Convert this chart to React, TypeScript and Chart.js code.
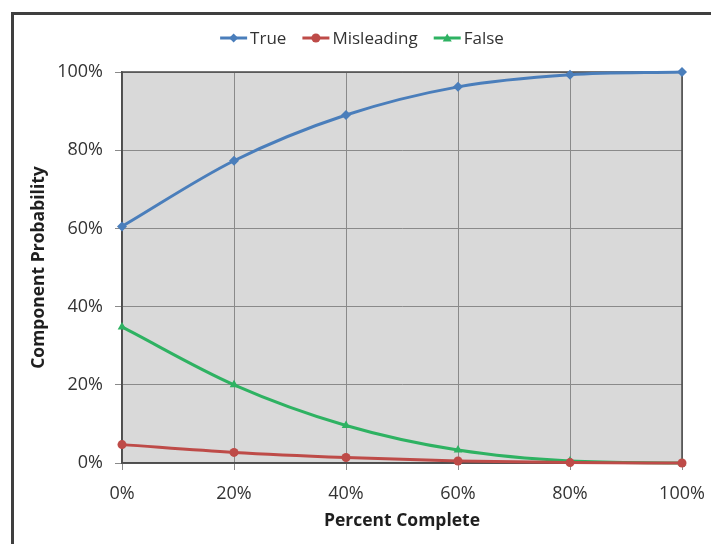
import React, { useEffect, useRef } from "react";
import { Chart, registerables } from "chart.js";

Chart.register(...registerables);

// ---- data ----
const xValues = [0, 20, 40, 60, 80, 100];
const trueValues = [60.5, 77.3, 89, 96.2, 99.3, 100];
const misleadingValues = [4.7, 2.7, 1.4, 0.5, 0.1, 0];
const falseValues = [34.8, 20, 9.6, 3.3, 0.5, 0];
const seriesNames = ["True", "Misleading", "False"];
const xTitle = "Percent Complete";
const yTitle = "Component Probability";

// ---- styles ----
const FONT = "'Open Sans', sans-serif";
const COLORS = ["#4a7ebb", "#be4b48", "#2eb262"];
const MARKERS = ["rectRot", "circle", "triangle"];
const W = 711;
const H = 544;

function drawMarker(ctx: CanvasRenderingContext2D, style: string, x: number, y: number, r: number, color: string) {
  ctx.save();
  ctx.fillStyle = color;
  ctx.beginPath();
  if (style === "rectRot") {
    ctx.moveTo(x, y - r);
    ctx.lineTo(x + r, y);
    ctx.lineTo(x, y + r);
    ctx.lineTo(x - r, y);
    ctx.closePath();
  } else if (style === "circle") {
    ctx.arc(x, y, r, 0, Math.PI * 2);
  } else {
    ctx.moveTo(x, y - r);
    ctx.lineTo(x + r, y + r * 0.8);
    ctx.lineTo(x - r, y + r * 0.8);
    ctx.closePath();
  }
  ctx.fill();
  ctx.restore();
}

const plotBg = {
  id: "plotBg",
  beforeDraw(chart: any) {
    const { ctx, chartArea: a } = chart;
    ctx.save();
    ctx.fillStyle = "#d9d9d9";
    ctx.fillRect(a.left, a.top, a.right - a.left, a.bottom - a.top);
    ctx.restore();
  },
  beforeDatasetsDraw(chart: any) {
    const { ctx, chartArea: a } = chart;
    ctx.save();
    ctx.strokeStyle = "#4a4a4a";
    ctx.lineWidth = 1.5;
    ctx.strokeRect(a.left, a.top, a.right - a.left, a.bottom - a.top);
    ctx.restore();
  },
};

const lineLegend = {
  id: "lineLegend",
  afterDraw(chart: any) {
    const { ctx } = chart;
    ctx.save();
    ctx.font = `17px ${FONT}`;
    ctx.textBaseline = "middle";
    const lineLen = 27;
    const gap = 3;
    const spacing = 16;
    const widths = seriesNames.map((n) => lineLen + gap + ctx.measureText(n).width);
    const total = widths.reduce((s, w) => s + w, 0) + spacing * (seriesNames.length - 1);
    let x = 362 - total / 2;
    const y = 38;
    seriesNames.forEach((name, i) => {
      ctx.strokeStyle = COLORS[i];
      ctx.lineWidth = 3;
      ctx.beginPath();
      ctx.moveTo(x, y);
      ctx.lineTo(x + lineLen, y);
      ctx.stroke();
      drawMarker(ctx, MARKERS[i], x + lineLen / 2, y, 4.5, COLORS[i]);
      ctx.fillStyle = "#333333";
      ctx.textAlign = "left";
      ctx.fillText(name, x + lineLen + gap, y + 1);
      x += widths[i] + spacing;
    });
    ctx.restore();
  },
};

export default function App() {
  const ref = useRef<HTMLCanvasElement | null>(null);

  useEffect(() => {
    if (!ref.current) return;
    const mk = (vals: number[]) => xValues.map((x, i) => ({ x, y: vals[i] }));
    const seriesData = [trueValues, misleadingValues, falseValues];
    const chart = new Chart(ref.current, {
      type: "line",
      data: {
        datasets: seriesNames.map((name, i) => ({
          label: name,
          data: mk(seriesData[i]),
          borderColor: COLORS[i],
          backgroundColor: COLORS[i],
          borderWidth: 3,
          pointStyle: MARKERS[i] as any,
          pointRadius: i === 1 ? 4.5 : 5,
          pointBorderWidth: 0,
          pointBackgroundColor: COLORS[i],
          cubicInterpolationMode: "monotone" as const,
          clip: false as any,
        })),
      },
      options: {
        animation: false,
        responsive: false,
        maintainAspectRatio: false,
        layout: { padding: { left: 14, right: 29, top: 72, bottom: 0 } },
        plugins: { legend: { display: false }, tooltip: { enabled: false }, title: { display: false } },
        scales: {
          x: {
            type: "linear",
            min: 0,
            max: 100,
            afterFit: (s: any) => {
              s.height = 81;
              s.paddingLeft = 0;
              s.paddingRight = 0;
            },
            ticks: {
              stepSize: 20,
              padding: 13,
              color: "#333333",
              font: { family: FONT, size: 18 },
              callback: (v: any) => `${v}%`,
            },
            grid: { color: "#8a8a8a", lineWidth: 1, tickLength: 7, tickColor: "#8a8a8a" },
            border: { display: true, color: "#5a5a5a", width: 1.5 },
            title: {
              display: true,
              text: xTitle,
              color: "#1f1f1f",
              font: { family: FONT, size: 17.5, weight: "bold" },
              padding: { top: 0, bottom: 12 },
            },
          },
          y: {
            min: 0,
            max: 100,
            afterFit: (s: any) => {
              s.width = 108;
              s.paddingTop = 0;
              s.paddingBottom = 0;
            },
            ticks: {
              stepSize: 20,
              padding: 12,
              color: "#333333",
              font: { family: FONT, size: 18 },
              callback: (v: any) => `${v}%`,
            },
            grid: { color: "#8a8a8a", lineWidth: 1, tickLength: 7, tickColor: "#8a8a8a" },
            border: { display: true, color: "#5a5a5a", width: 1.5 },
            title: {
              display: true,
              text: yTitle,
              color: "#1f1f1f",
              font: { family: FONT, size: 17.5, weight: "bold" },
              padding: { top: 15, bottom: 0 },
            },
          },
        },
      },
      plugins: [plotBg, lineLegend],
    });
    return () => chart.destroy();
  }, []);

  return (
    <div
      style={{
        position: "fixed",
        left: 0,
        top: 0,
        width: W,
        height: H,
        overflow: "hidden",
        background: "#ffffff",
      }}
    >
      <div
        style={{
          position: "absolute",
          left: 11,
          top: 12,
          width: 760,
          height: 600,
          border: "3px solid #3f3f3f",
          boxSizing: "border-box",
        }}
      />
      <canvas ref={ref} width={W} height={H} style={{ position: "absolute", left: 0, top: 0, width: W, height: H }} />
    </div>
  );
}
